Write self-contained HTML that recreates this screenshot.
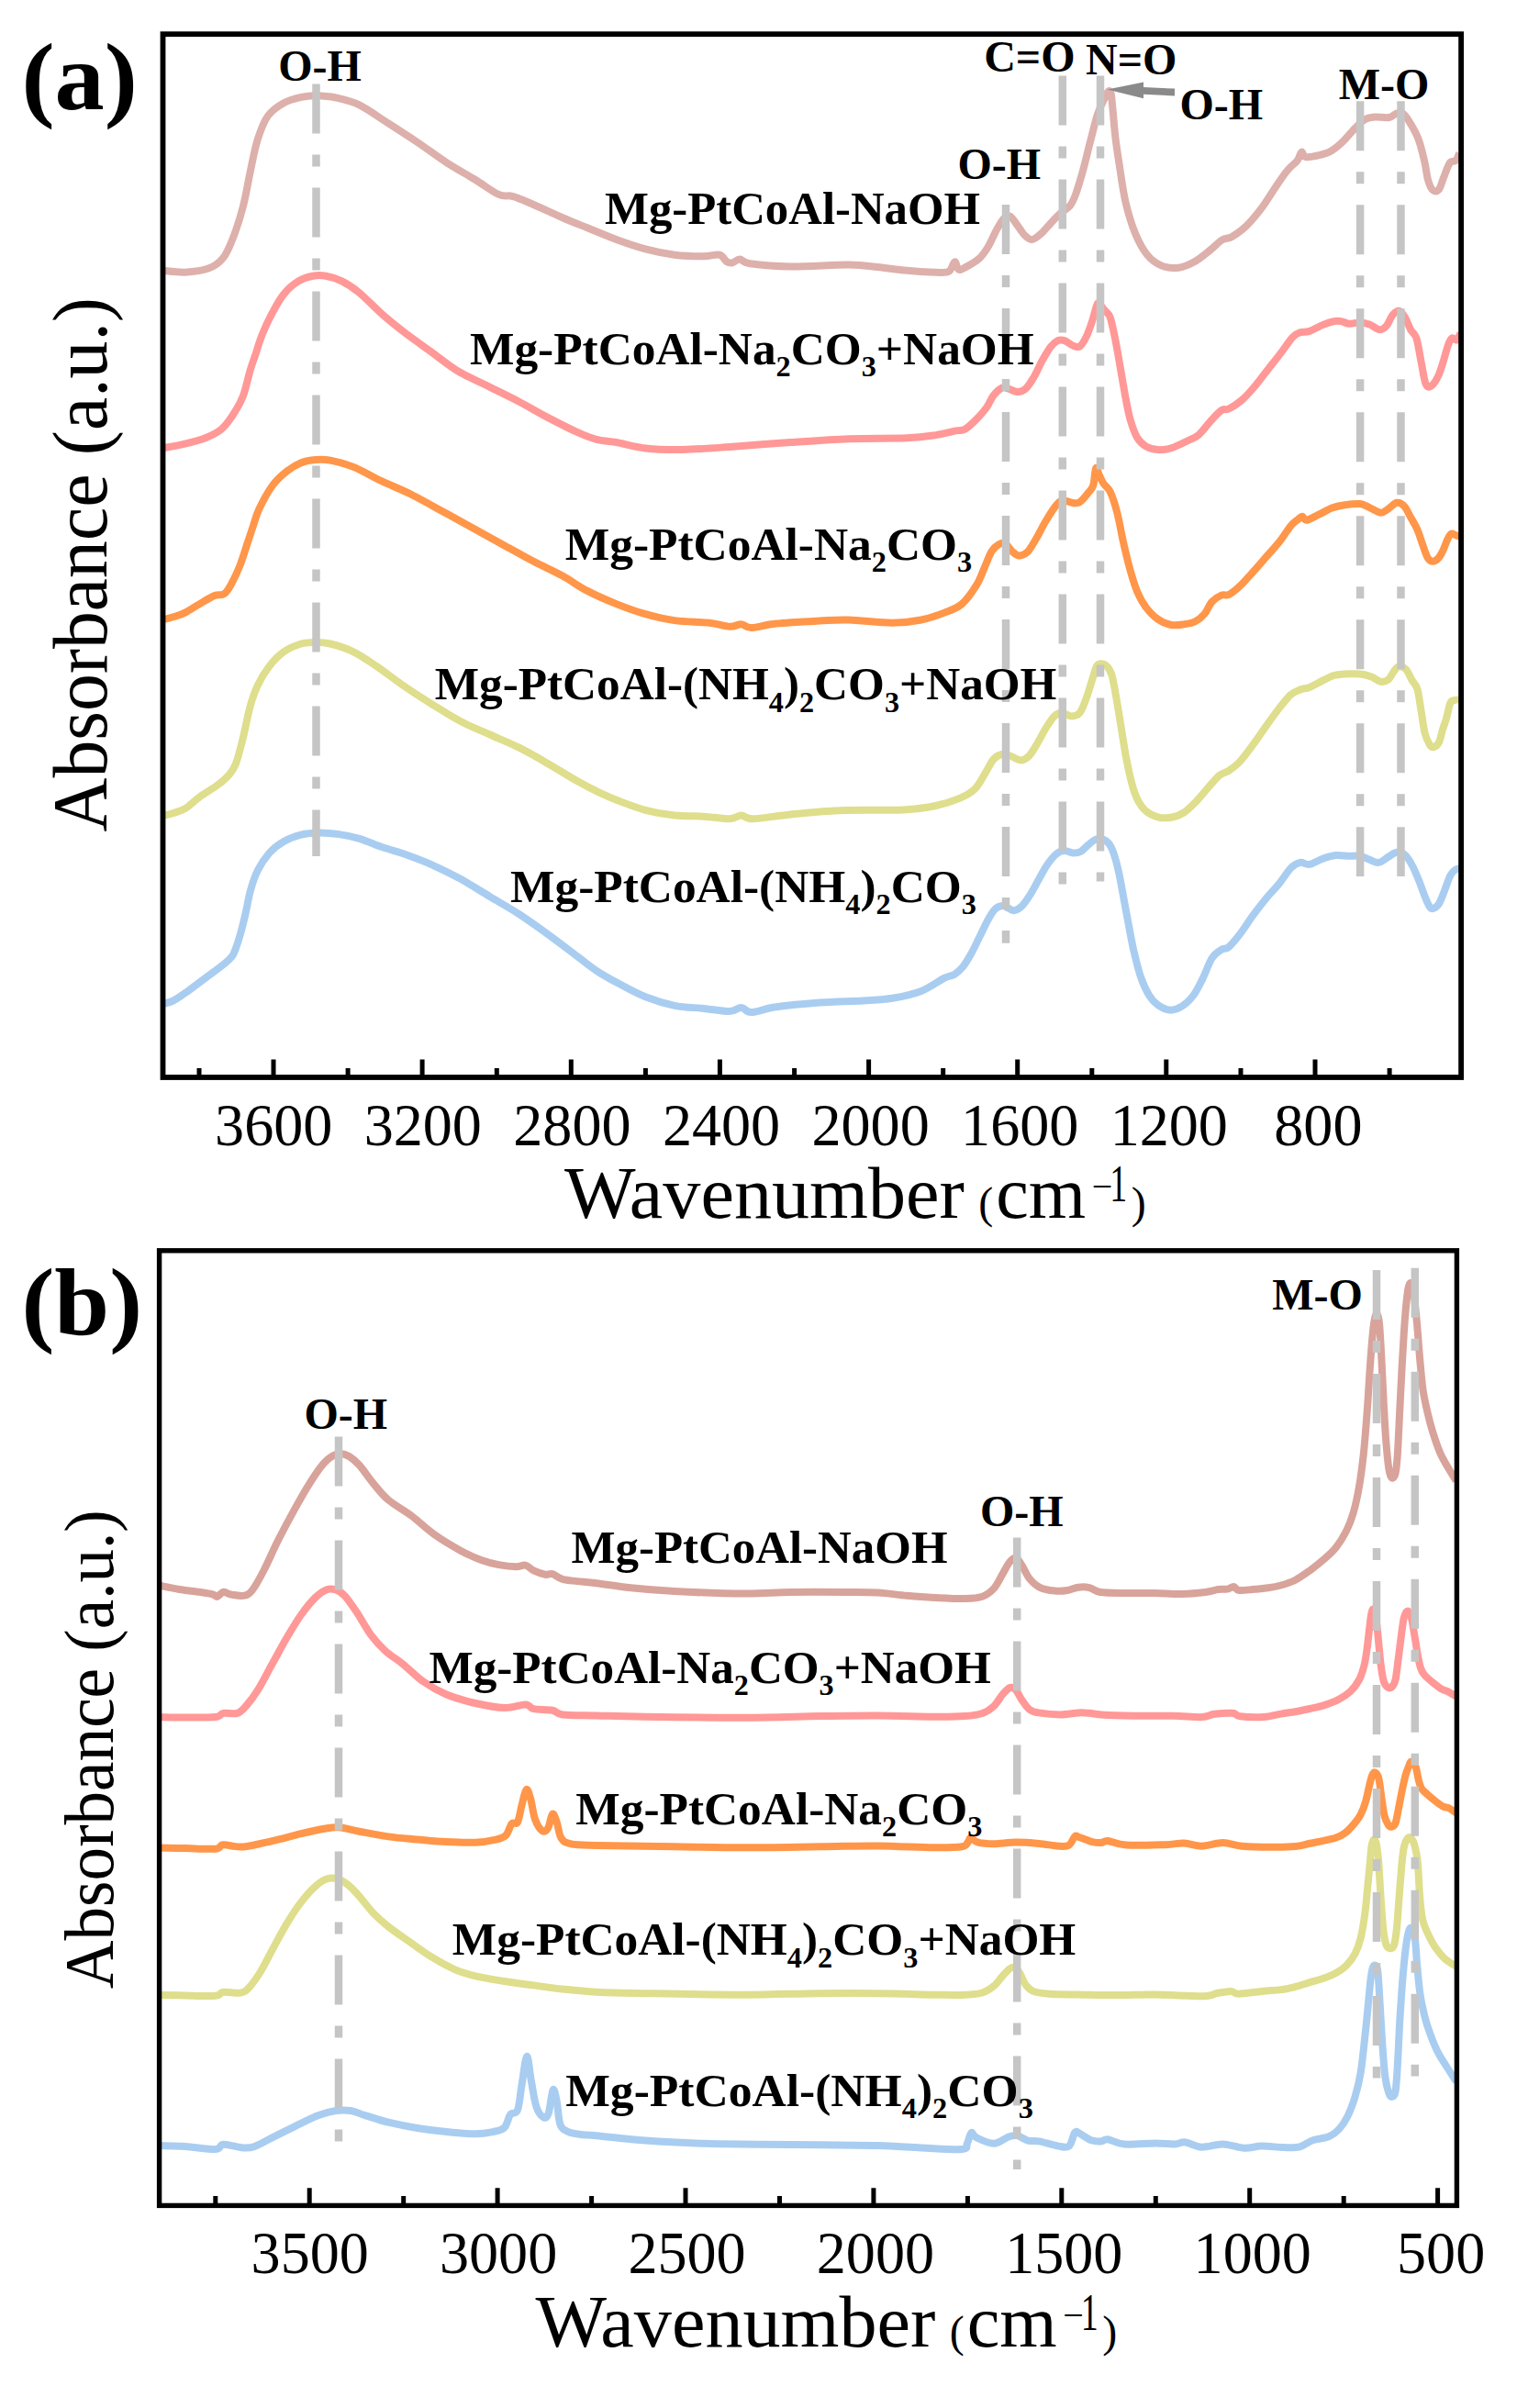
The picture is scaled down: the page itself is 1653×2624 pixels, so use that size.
<!DOCTYPE html>
<html lang="en"><head><meta charset="utf-8"><title>FTIR spectra</title>
<style>html,body{margin:0;padding:0;background:#fff}body{width:1653px;height:2624px;overflow:hidden}svg{display:block}text{font-family:"Liberation Serif","Times New Roman",serif;fill:#000}.b text{font-weight:bold}</style></head><body>
<svg width="1653" height="2624" viewBox="0 0 1653 2624">
<rect width="1653" height="2624" fill="#fff"/>
<g fill="none" stroke-width="8" stroke-linejoin="round" stroke-linecap="butt">
<path d="M177.0 294.8C181.1 295.1 193.3 297.1 201.6 296.7C209.9 296.3 220.1 295.1 227.0 292.6C233.9 290.1 238.3 287.0 242.8 281.5C247.3 276.0 250.2 268.9 253.9 259.4C257.6 249.9 261.9 236.7 265.0 224.6C268.1 212.5 270.2 198.7 272.8 186.6C275.4 174.5 277.6 161.8 280.8 151.8C284.0 141.8 287.1 133.1 291.8 126.5C296.5 119.9 303.1 115.6 309.2 112.2C315.3 108.8 322.4 107.2 328.2 105.9C334.0 104.6 337.7 104.2 344.0 104.3C350.3 104.4 358.3 104.8 366.2 106.5C374.1 108.2 382.0 109.8 391.5 114.4C401.0 119.1 412.6 127.6 423.2 134.4C433.8 141.2 444.2 147.9 454.8 155.0C465.4 162.1 475.9 170.3 486.5 177.1C497.1 183.9 508.6 190.2 518.1 196.0C527.6 201.8 536.5 208.9 543.4 211.9C550.2 214.9 552.9 212.2 559.2 214.1C565.5 215.9 572.4 219.2 581.4 223.0C590.4 226.8 603.2 233.0 613.0 237.2C622.8 241.4 630.2 244.3 640.0 248.3C649.8 252.3 661.1 257.1 671.6 261.0C682.1 264.9 692.7 268.6 703.3 271.4C713.9 274.2 724.5 276.4 735.0 277.7C745.5 279.0 758.4 279.3 766.6 279.3C774.8 279.3 779.8 276.7 784.0 277.7C788.2 278.7 789.6 283.9 792.0 285.3C794.4 286.7 795.9 286.8 798.2 286.3C800.6 285.8 802.9 282.4 806.1 282.5C809.3 282.6 808.0 285.9 817.2 287.2C826.4 288.5 843.6 290.2 861.5 290.4C879.4 290.6 909.0 288.4 924.8 288.5C940.6 288.6 946.0 289.9 956.5 291.0C967.0 292.1 977.6 293.9 988.1 294.8C998.6 295.8 1012.1 296.5 1019.7 296.7C1027.4 296.9 1030.6 297.7 1034.0 295.8C1037.4 293.9 1038.6 285.7 1040.3 285.3C1042.0 284.9 1042.6 292.4 1044.4 293.5C1046.2 294.6 1047.6 293.6 1051.4 291.6C1055.2 289.6 1063.0 285.3 1067.2 281.5C1071.4 277.7 1073.5 274.2 1076.7 268.9C1079.9 263.6 1083.3 255.1 1086.2 249.9C1089.1 244.7 1091.7 240.2 1094.1 237.8C1096.5 235.4 1098.0 234.3 1100.4 235.6C1102.9 236.9 1106.1 242.2 1108.8 245.7C1111.5 249.2 1114.1 253.9 1116.7 256.5C1119.3 259.1 1121.6 261.4 1124.6 261.1C1127.6 260.8 1130.9 257.8 1134.5 254.6C1138.1 251.4 1142.7 245.5 1146.3 241.7C1149.9 237.9 1152.9 234.8 1156.2 231.8C1159.5 228.8 1163.5 227.2 1166.1 223.9C1168.7 220.6 1169.7 218.3 1172.0 212.0C1174.3 205.7 1177.2 195.9 1179.9 186.3C1182.6 176.8 1185.2 164.9 1187.9 154.7C1190.6 144.5 1193.2 132.9 1195.8 125.0C1198.4 117.0 1201.7 111.2 1203.7 107.0C1205.7 102.8 1206.4 100.4 1207.6 99.6C1208.8 98.8 1209.8 98.6 1210.6 102.0C1211.4 105.4 1211.8 111.9 1212.6 120.0C1213.4 128.1 1214.3 141.0 1215.5 150.7C1216.7 160.4 1217.7 166.9 1219.5 178.4C1221.3 189.9 1223.5 207.2 1226.4 219.8C1229.3 232.4 1233.0 244.3 1236.9 254.0C1240.9 263.7 1245.3 271.9 1250.1 277.8C1254.9 283.7 1260.2 287.3 1265.9 289.6C1271.6 291.9 1278.2 292.6 1284.4 291.7C1290.6 290.8 1297.1 287.6 1302.8 284.4C1308.5 281.2 1313.9 276.3 1318.7 272.5C1323.5 268.7 1327.8 263.8 1331.8 261.4C1335.8 259.0 1338.0 260.6 1342.4 258.0C1346.8 255.4 1352.9 251.2 1358.2 246.1C1363.5 241.0 1368.7 234.7 1374.0 227.7C1379.3 220.7 1385.1 210.9 1389.9 203.9C1394.7 196.9 1399.0 190.3 1403.0 185.5C1407.0 180.7 1411.0 178.2 1413.6 174.9C1416.1 171.6 1416.8 166.3 1418.3 165.7C1419.8 165.0 1419.6 170.4 1422.8 171.0C1426.0 171.6 1432.7 170.2 1437.3 169.1C1441.9 168.0 1446.1 166.9 1450.5 164.4C1454.9 161.9 1459.3 158.0 1463.7 153.8C1468.1 149.6 1473.0 143.2 1476.9 139.3C1480.9 135.4 1483.9 132.1 1487.4 130.1C1490.9 128.1 1493.6 127.8 1498.0 127.5C1502.4 127.2 1509.8 128.7 1513.8 128.0C1517.8 127.3 1519.3 124.2 1521.7 123.5C1524.1 122.8 1526.1 122.2 1528.3 123.5C1530.5 124.8 1532.1 126.8 1534.9 131.4C1537.8 136.0 1542.6 143.9 1545.4 151.2C1548.2 158.4 1550.2 167.4 1552.0 174.9C1553.8 182.4 1554.5 190.6 1556.0 196.0C1557.5 201.4 1559.2 205.3 1561.2 207.1C1563.2 208.9 1565.8 208.9 1567.8 206.6C1569.8 204.3 1571.1 198.2 1573.1 193.4C1575.1 188.6 1577.5 180.7 1579.7 177.6C1581.9 174.5 1584.5 176.7 1586.3 174.9C1588.0 173.1 1589.5 168.3 1590.2 167.0" stroke="#DDB0AB"/>
<path d="M177.0 488.4C181.1 487.6 193.8 485.5 201.6 483.6C209.4 481.8 217.2 479.9 223.8 477.3C230.4 474.7 236.2 472.0 241.2 467.8C246.2 463.6 250.0 458.1 253.9 452.0C257.9 445.9 261.8 439.6 264.9 431.4C268.0 423.2 270.4 410.8 272.8 402.9C275.2 395.0 277.1 390.2 279.2 383.9C281.3 377.6 282.6 372.0 285.5 364.9C288.4 357.8 292.7 348.6 296.6 341.2C300.6 333.8 304.4 326.4 309.2 320.6C313.9 314.8 319.8 309.7 325.1 306.4C330.4 303.1 335.9 301.6 340.9 300.7C345.9 299.8 349.8 299.8 355.1 300.7C360.4 301.6 366.4 303.3 372.5 306.4C378.6 309.4 384.1 312.9 391.5 319.0C398.9 325.1 408.4 335.4 416.8 342.8C425.2 350.2 433.2 356.5 442.2 363.4C451.2 370.2 461.1 377.0 470.6 383.9C480.1 390.8 488.6 398.2 499.1 404.5C509.7 410.8 522.8 416.4 533.9 421.9C545.0 427.4 555.0 432.2 565.6 437.7C576.2 443.2 586.7 449.6 597.2 455.1C607.8 460.6 620.1 466.9 628.9 470.9C637.7 474.9 642.9 477.0 650.0 478.9C657.1 480.8 662.7 480.4 671.6 482.0C680.5 483.6 691.2 487.1 703.3 488.4C715.4 489.7 728.6 490.2 744.4 489.9C760.2 489.6 778.7 488.1 798.2 486.8C817.7 485.5 840.4 483.4 861.5 482.0C882.6 480.6 903.7 479.0 924.8 478.2C945.9 477.4 972.3 478.0 988.1 477.3C1003.9 476.6 1010.7 475.4 1019.7 474.1C1028.7 472.8 1036.6 470.4 1041.9 469.4C1047.2 468.3 1047.7 469.9 1051.4 467.8C1055.1 465.7 1060.0 460.9 1064.0 456.9C1068.0 452.9 1072.0 448.3 1075.1 444.0C1078.2 439.7 1079.7 434.6 1082.5 431.0C1085.3 427.4 1088.9 423.9 1091.7 422.7C1094.5 421.5 1096.3 423.0 1099.1 423.7C1101.9 424.4 1105.2 427.0 1108.3 427.0C1111.4 427.0 1114.4 426.4 1117.5 423.7C1120.6 421.0 1123.6 415.9 1126.7 410.7C1129.8 405.5 1132.9 397.8 1136.0 392.3C1139.1 386.8 1142.4 381.0 1145.2 377.5C1148.0 374.0 1150.1 372.2 1152.6 371.1C1155.1 370.0 1157.2 370.2 1160.0 371.1C1162.8 372.0 1166.4 375.5 1169.2 376.6C1172.0 377.7 1174.3 378.9 1176.6 377.5C1178.9 376.1 1180.8 372.6 1183.0 368.3C1185.2 364.0 1187.5 357.6 1189.5 351.7C1191.5 345.8 1193.7 336.6 1195.0 333.2C1196.3 329.8 1196.0 330.1 1197.5 331.0C1199.0 331.9 1202.2 336.3 1204.3 338.8C1206.3 341.3 1208.0 340.9 1209.8 346.1C1211.6 351.3 1213.4 360.9 1215.3 370.1C1217.2 379.3 1219.1 391.0 1220.9 401.5C1222.8 412.0 1224.6 423.4 1226.4 432.9C1228.2 442.4 1229.8 451.3 1232.0 458.7C1234.2 466.1 1236.5 472.6 1239.3 477.2C1242.1 481.8 1244.9 484.2 1248.6 486.4C1252.3 488.5 1256.9 489.8 1261.5 490.1C1266.1 490.4 1270.8 490.0 1276.3 488.3C1281.8 486.6 1289.7 482.4 1294.7 480.0C1299.7 477.6 1302.3 477.1 1306.3 473.7C1310.3 470.3 1314.5 463.8 1318.6 459.4C1322.7 455.0 1327.5 449.4 1330.9 447.1C1334.3 444.8 1335.3 447.4 1339.0 445.5C1342.7 443.6 1348.5 440.0 1353.3 435.9C1358.1 431.8 1362.8 426.2 1367.6 420.6C1372.4 415.0 1377.1 408.3 1381.9 402.2C1386.7 396.1 1391.9 389.6 1396.3 383.8C1400.7 378.0 1405.1 371.0 1408.5 367.4C1411.9 363.8 1413.6 363.4 1416.7 362.3C1419.8 361.2 1422.8 362.3 1426.9 360.9C1431.0 359.5 1436.8 355.9 1441.2 354.1C1445.6 352.3 1450.1 350.8 1453.5 350.1C1456.9 349.4 1458.9 349.7 1461.6 350.1C1464.3 350.5 1466.4 352.5 1469.8 352.7C1473.2 352.9 1478.3 351.4 1482.1 351.5C1485.8 351.6 1488.7 352.2 1492.3 353.5C1495.9 354.8 1500.4 359.0 1503.5 359.3C1506.6 359.6 1508.3 357.9 1510.7 355.2C1513.1 352.5 1515.4 345.6 1517.8 342.9C1520.2 340.2 1522.8 338.3 1525.0 338.8C1527.2 339.3 1529.1 342.6 1531.1 346.0C1533.1 349.4 1535.2 355.6 1537.2 359.3C1539.2 363.1 1541.5 362.7 1543.4 368.5C1545.3 374.3 1546.8 385.7 1548.5 394.0C1550.2 402.3 1551.7 414.1 1553.6 418.5C1555.5 422.9 1557.5 422.0 1559.7 420.6C1561.9 419.2 1564.9 414.4 1566.9 410.3C1569.0 406.2 1570.1 401.8 1572.0 396.0C1573.9 390.2 1576.4 380.2 1578.1 375.6C1579.8 371.0 1580.7 369.4 1582.2 368.5C1583.7 367.6 1585.8 371.4 1587.3 370.5C1588.8 369.6 1590.7 364.5 1591.4 363.3" stroke="#FF9897"/>
<path d="M177.0 675.5C179.0 675.0 184.9 673.6 189.0 672.3C193.1 671.0 196.8 670.0 201.6 667.6C206.3 665.2 212.2 661.2 217.5 658.1C222.8 655.0 228.8 651.1 233.3 649.2C237.8 647.4 241.2 649.2 244.4 647.0C247.6 644.8 249.4 641.3 252.3 636.0C255.2 630.7 258.9 622.8 261.8 615.4C264.7 608.0 267.3 598.7 269.7 591.6C272.1 584.5 273.9 578.8 276.0 572.7C278.1 566.6 278.9 562.0 282.3 554.8C285.7 547.6 291.6 536.4 296.6 529.5C301.6 522.6 307.1 517.9 312.4 513.7C317.7 509.5 322.9 506.3 328.2 504.2C333.5 502.1 338.7 501.4 344.0 501.0C349.3 500.6 353.0 500.3 359.9 501.6C366.8 502.9 375.7 505.0 385.2 508.9C394.7 512.8 406.2 519.7 416.8 524.7C427.4 529.7 436.9 533.2 448.5 539.0C460.1 544.8 474.9 553.3 486.5 559.6C498.1 565.9 507.6 571.2 518.1 577.0C528.6 582.8 539.2 588.6 549.7 594.4C560.2 600.2 570.9 606.3 581.4 611.8C591.9 617.3 603.2 622.2 613.0 627.6C622.8 633.0 630.2 638.8 640.0 643.9C649.8 649.0 661.1 653.9 671.6 658.1C682.1 662.3 692.7 666.2 703.3 669.2C713.9 672.2 723.4 674.5 735.0 676.1C746.6 677.7 762.9 677.6 772.9 678.7C782.9 679.8 789.3 682.5 795.1 682.8C800.9 683.1 803.8 680.1 807.7 680.3C811.7 680.5 812.5 684.2 818.8 684.1C825.1 684.0 833.3 680.9 845.7 679.6C858.1 678.3 880.0 677.2 893.2 676.5C906.4 675.8 911.6 675.1 924.8 675.5C938.0 675.9 959.1 678.7 972.3 678.7C985.5 678.7 994.4 677.4 1003.9 675.5C1013.4 673.6 1021.8 670.5 1029.2 667.6C1036.6 664.7 1042.4 663.1 1048.2 658.1C1054.0 653.1 1059.8 644.5 1064.0 637.7C1068.2 630.9 1070.4 623.6 1073.2 617.4C1076.0 611.2 1078.1 604.7 1080.6 600.7C1083.1 596.7 1085.5 594.8 1088.0 593.4C1090.5 592.0 1092.9 591.2 1095.4 592.4C1097.9 593.6 1100.3 598.5 1102.8 600.7C1105.2 602.9 1107.3 605.2 1110.1 605.4C1112.9 605.6 1116.3 604.6 1119.4 601.7C1122.5 598.8 1125.2 593.5 1128.6 587.8C1132.0 582.1 1136.0 573.6 1139.7 567.5C1143.4 561.4 1147.6 554.6 1150.7 550.9C1153.8 547.2 1155.0 545.9 1158.1 545.4C1161.2 544.9 1166.1 547.8 1169.2 548.1C1172.3 548.4 1173.8 549.0 1176.6 547.2C1179.4 545.4 1183.3 540.2 1185.8 537.1C1188.2 534.0 1189.9 533.3 1191.3 528.8C1192.7 524.3 1193.0 512.1 1194.1 510.3C1195.2 508.5 1196.4 514.9 1197.8 517.7C1199.2 520.5 1200.4 523.8 1202.4 526.9C1204.4 530.0 1207.3 530.9 1209.8 536.1C1212.3 541.3 1214.7 548.8 1217.2 558.3C1219.7 567.8 1222.1 582.6 1224.6 593.4C1227.1 604.2 1229.5 614.3 1232.0 622.9C1234.5 631.5 1236.5 638.5 1239.3 645.0C1242.1 651.5 1244.9 656.7 1248.6 661.6C1252.3 666.5 1256.9 671.4 1261.5 674.6C1266.1 677.8 1271.4 680.1 1276.3 681.0C1281.2 681.9 1286.7 680.7 1291.0 680.1C1295.3 679.5 1298.7 679.1 1302.3 677.2C1305.9 675.4 1309.5 672.6 1312.5 669.0C1315.5 665.4 1317.5 659.1 1320.6 655.7C1323.7 652.3 1327.8 649.9 1330.9 648.6C1334.0 647.3 1335.6 649.7 1339.0 648.0C1342.4 646.3 1346.9 642.6 1351.3 638.4C1355.7 634.2 1360.8 628.3 1365.6 623.0C1370.4 617.7 1375.1 612.2 1379.9 606.7C1384.7 601.2 1389.8 595.9 1394.2 590.3C1398.6 584.7 1403.1 577.1 1406.5 573.0C1409.9 568.9 1412.5 567.5 1414.6 565.8C1416.7 564.1 1417.6 562.6 1419.1 562.8C1420.6 563.0 1420.8 567.1 1423.8 566.8C1426.8 566.4 1432.5 562.9 1437.1 560.7C1441.7 558.5 1447.0 555.3 1451.4 553.6C1455.8 551.9 1458.6 551.2 1463.7 550.5C1468.8 549.8 1477.3 548.6 1482.1 549.1C1486.9 549.6 1488.6 551.6 1492.3 553.2C1496.0 554.8 1501.1 558.5 1504.5 558.7C1507.9 558.9 1509.8 556.4 1512.7 554.6C1515.6 552.8 1519.0 548.3 1521.9 547.8C1524.8 547.3 1527.5 548.8 1530.1 551.5C1532.6 554.2 1534.8 559.5 1537.2 563.8C1539.6 568.1 1542.2 572.0 1544.4 577.1C1546.6 582.2 1548.6 589.3 1550.5 594.4C1552.4 599.5 1553.9 604.8 1555.6 607.7C1557.3 610.6 1558.8 611.6 1560.7 611.8C1562.6 612.0 1565.0 610.6 1566.9 608.7C1568.8 606.8 1570.3 604.0 1572.0 600.6C1573.7 597.2 1575.6 591.4 1577.1 588.3C1578.6 585.2 1579.7 582.6 1581.2 581.8C1582.7 580.9 1584.6 582.6 1586.3 583.2C1588.0 583.8 1590.6 584.9 1591.4 585.2" stroke="#FF9649"/>
<path d="M177.0 889.1C179.0 888.6 184.9 887.3 189.0 886.0C193.1 884.7 196.8 884.1 201.6 881.2C206.3 878.3 211.7 872.7 217.5 868.5C223.3 864.3 231.2 859.9 236.5 855.9C241.8 851.9 245.7 848.8 249.1 844.8C252.5 840.8 254.4 839.1 257.0 832.2C259.6 825.4 262.3 814.2 264.9 803.7C267.5 793.2 270.1 778.4 272.8 768.9C275.5 759.4 277.4 753.8 280.8 746.7C284.2 739.6 288.7 732.2 293.4 726.1C298.1 720.0 303.4 714.4 309.2 710.3C315.0 706.2 322.4 703.2 328.2 701.5C334.0 699.8 338.7 699.9 344.0 699.9C349.3 699.9 353.0 699.8 359.9 701.5C366.8 703.2 376.8 706.2 385.2 710.3C393.6 714.4 401.5 720.0 410.5 726.1C419.5 732.2 429.0 739.8 439.0 746.7C449.0 753.6 460.1 760.7 470.6 767.3C481.2 773.9 491.8 780.8 502.3 786.3C512.9 791.8 523.4 795.8 533.9 800.5C544.4 805.2 555.0 809.4 565.6 814.7C576.2 820.0 586.7 826.1 597.2 832.2C607.8 838.3 620.1 846.1 628.9 851.1C637.7 856.1 642.9 858.8 650.0 862.2C657.1 865.6 662.7 868.3 671.6 871.7C680.5 875.1 692.7 880.0 703.3 882.8C713.9 885.6 724.5 887.4 735.0 888.5C745.5 889.6 756.6 889.1 766.6 889.7C776.6 890.3 788.2 892.5 795.1 892.3C802.0 892.1 803.5 888.5 807.7 888.5C811.9 888.5 811.4 892.5 820.4 892.3C829.4 892.1 846.7 889.0 861.5 887.5C876.3 886.0 893.2 884.2 909.0 883.4C924.8 882.6 943.3 883.0 956.5 882.8C969.7 882.6 977.6 883.0 988.1 882.2C998.6 881.4 1010.2 880.0 1019.7 878.0C1029.2 876.0 1038.0 873.1 1045.1 870.1C1052.2 867.1 1057.4 864.3 1062.1 859.8C1066.8 855.3 1069.8 848.6 1073.2 843.2C1076.6 837.8 1079.4 831.0 1082.5 827.5C1085.6 824.0 1088.6 822.6 1091.7 822.0C1094.8 821.4 1097.5 822.7 1100.9 823.8C1104.3 824.9 1108.6 828.4 1112.0 828.4C1115.4 828.4 1118.1 826.9 1121.2 823.8C1124.3 820.7 1127.3 815.1 1130.4 810.0C1133.5 804.9 1136.6 798.3 1139.7 793.4C1142.8 788.5 1146.1 783.2 1148.9 780.4C1151.7 777.6 1153.2 776.7 1156.3 776.7C1159.4 776.7 1164.0 780.4 1167.4 780.4C1170.8 780.4 1173.8 780.1 1176.6 776.7C1179.4 773.3 1181.7 766.2 1184.0 760.1C1186.3 754.0 1188.6 745.5 1190.4 739.8C1192.2 734.1 1193.5 728.8 1195.0 726.0C1196.5 723.2 1197.9 723.2 1199.7 723.2C1201.5 723.2 1204.1 723.9 1206.1 726.0C1208.1 728.1 1209.9 730.4 1211.6 736.1C1213.3 741.8 1214.6 750.6 1216.3 760.1C1218.0 769.6 1220.0 782.3 1221.8 793.4C1223.6 804.5 1225.4 816.8 1227.3 826.6C1229.2 836.4 1230.9 845.0 1232.9 852.4C1234.9 859.8 1236.7 865.7 1239.3 870.9C1241.9 876.1 1244.9 880.6 1248.6 883.8C1252.3 887.0 1256.9 889.1 1261.5 890.3C1266.1 891.5 1271.5 891.6 1276.3 890.8C1281.0 890.0 1285.7 888.2 1290.0 885.5C1294.3 882.8 1297.9 879.0 1302.3 874.5C1306.7 870.0 1312.2 863.1 1316.6 858.2C1321.0 853.3 1325.1 848.0 1328.8 844.9C1332.5 841.8 1335.2 842.3 1339.0 839.8C1342.8 837.2 1346.9 834.4 1351.3 829.6C1355.7 824.8 1360.8 817.7 1365.6 811.2C1370.4 804.7 1375.1 797.4 1379.9 790.8C1384.7 784.2 1389.8 777.0 1394.2 771.4C1398.6 765.8 1402.8 760.4 1406.5 757.1C1410.2 753.8 1413.3 752.9 1416.7 751.5C1420.1 750.1 1422.8 750.5 1426.9 748.9C1431.0 747.3 1436.8 743.9 1441.2 741.7C1445.6 739.6 1449.8 737.2 1453.5 736.0C1457.2 734.8 1458.9 734.8 1463.7 734.6C1468.5 734.4 1477.0 734.1 1482.1 734.6C1487.2 735.1 1490.6 736.2 1494.3 737.6C1498.0 739.0 1501.4 742.3 1504.5 742.8C1507.6 743.3 1510.3 742.6 1512.7 740.7C1515.1 738.8 1517.0 733.9 1518.9 731.5C1520.8 729.1 1521.8 726.7 1524.0 726.4C1526.2 726.1 1529.7 727.1 1532.1 729.5C1534.5 731.9 1536.2 737.1 1538.3 740.7C1540.3 744.3 1542.7 745.3 1544.4 750.9C1546.1 756.5 1547.1 766.4 1548.5 774.4C1549.9 782.4 1551.1 792.8 1552.6 798.9C1554.1 805.0 1556.2 808.6 1557.7 811.2C1559.2 813.8 1560.1 814.6 1561.8 814.3C1563.5 814.0 1566.2 812.4 1567.9 809.2C1569.6 806.0 1570.6 799.3 1572.0 794.9C1573.4 790.5 1574.7 787.4 1576.1 782.6C1577.5 777.8 1578.8 769.5 1580.2 766.3C1581.6 763.1 1582.3 763.9 1584.2 763.2C1586.1 762.5 1590.2 762.4 1591.4 762.2" stroke="#DEDE8C"/>
<path d="M177.0 1094.2C179.0 1093.6 184.4 1092.8 189.0 1090.4C193.6 1088.0 199.0 1084.0 204.8 1079.9C210.6 1075.8 217.5 1070.4 223.8 1065.7C230.1 1061.0 237.8 1055.7 242.8 1051.5C247.8 1047.3 250.7 1046.0 253.9 1040.4C257.1 1034.9 259.4 1026.1 261.8 1018.2C264.2 1010.3 266.3 1000.8 268.1 992.9C269.9 985.0 270.7 978.2 272.8 970.8C274.9 963.4 277.4 955.5 280.8 948.6C284.2 941.7 288.7 934.9 293.4 929.6C298.1 924.3 303.4 920.3 309.2 917.0C315.0 913.7 321.9 911.3 328.2 909.7C334.5 908.1 340.3 907.6 347.2 907.5C354.1 907.4 362.0 908.1 369.4 909.1C376.8 910.1 383.6 911.4 391.5 913.8C399.4 916.2 408.4 920.4 416.8 923.3C425.2 926.2 433.2 928.0 442.2 931.2C451.2 934.4 460.6 937.8 470.6 942.3C480.6 946.8 491.8 952.3 502.3 958.1C512.9 963.9 523.4 970.8 533.9 977.1C544.4 983.4 555.0 989.2 565.6 996.1C576.2 1003.0 586.7 1010.6 597.2 1018.2C607.8 1025.9 620.1 1035.4 628.9 1042.0C637.7 1048.6 642.9 1053.1 650.0 1057.8C657.1 1062.5 662.7 1065.7 671.6 1070.4C680.5 1075.2 692.7 1082.1 703.3 1086.3C713.9 1090.5 724.5 1093.7 735.0 1095.8C745.5 1097.9 756.6 1097.9 766.6 1098.9C776.6 1100.0 788.2 1102.2 795.1 1102.1C802.0 1101.9 803.8 1097.8 807.7 1098.0C811.7 1098.2 812.5 1103.1 818.8 1103.0C825.1 1102.9 833.3 1099.0 845.7 1097.3C858.1 1095.6 877.4 1093.8 893.2 1092.6C909.0 1091.4 927.4 1091.2 940.6 1090.4C953.8 1089.6 961.8 1089.5 972.3 1087.8C982.8 1086.0 994.4 1083.6 1003.9 1079.9C1013.4 1076.2 1023.2 1068.7 1029.2 1065.7C1035.2 1062.7 1036.7 1063.8 1040.0 1061.8C1043.3 1059.8 1046.1 1057.3 1049.2 1053.5C1052.3 1049.7 1055.4 1044.2 1058.5 1038.7C1061.6 1033.2 1064.6 1026.5 1067.7 1020.3C1070.8 1014.1 1074.1 1006.7 1076.9 1001.8C1079.7 996.9 1081.7 993.2 1084.3 990.7C1086.9 988.2 1090.1 987.1 1092.6 987.0C1095.1 986.9 1096.9 988.9 1099.1 989.8C1101.2 990.7 1103.0 992.7 1105.5 992.2C1108.0 991.7 1110.9 990.0 1113.8 987.0C1116.7 984.0 1120.0 979.0 1123.1 974.1C1126.2 969.2 1129.2 962.9 1132.3 957.5C1135.4 952.1 1138.4 946.2 1141.5 941.8C1144.6 937.3 1147.6 933.2 1150.7 930.8C1153.8 928.3 1156.9 927.3 1160.0 927.1C1163.1 926.9 1166.3 929.4 1169.2 929.5C1172.1 929.6 1174.7 929.5 1177.5 928.0C1180.3 926.5 1183.2 922.8 1185.8 920.6C1188.4 918.5 1190.7 916.2 1193.2 915.1C1195.7 914.0 1198.1 913.5 1200.6 914.1C1203.1 914.7 1205.8 916.2 1208.0 918.8C1210.2 921.4 1211.7 924.6 1213.5 929.8C1215.3 935.0 1217.2 941.8 1219.0 950.1C1220.8 958.4 1222.8 969.9 1224.6 979.7C1226.4 989.6 1228.3 999.7 1230.1 1009.2C1231.9 1018.7 1233.4 1027.7 1235.6 1036.9C1237.8 1046.1 1240.2 1056.6 1243.0 1064.6C1245.8 1072.6 1249.2 1079.8 1252.3 1084.9C1255.4 1090.0 1257.8 1092.4 1261.5 1095.0C1265.2 1097.6 1270.1 1100.3 1274.4 1100.6C1278.7 1100.9 1283.0 1099.5 1287.3 1096.9C1291.6 1094.3 1296.3 1090.0 1300.2 1084.9C1304.1 1079.9 1307.0 1073.4 1310.4 1066.6C1313.8 1059.8 1317.2 1049.4 1320.6 1044.1C1324.0 1038.8 1327.8 1036.9 1330.9 1034.9C1334.0 1032.9 1335.6 1034.8 1339.0 1031.9C1342.4 1029.0 1346.9 1023.4 1351.3 1017.6C1355.7 1011.8 1360.8 1003.6 1365.6 997.1C1370.4 990.6 1375.1 984.5 1379.9 978.7C1384.7 972.9 1389.8 967.9 1394.2 962.4C1398.6 956.9 1402.8 949.8 1406.5 946.0C1410.2 942.2 1413.3 940.6 1416.7 939.9C1420.1 939.2 1422.8 942.6 1426.9 941.9C1431.0 941.2 1436.4 937.4 1441.2 935.8C1446.0 934.2 1450.7 932.6 1455.5 932.1C1460.3 931.6 1465.4 932.7 1469.8 932.8C1474.2 932.9 1478.3 932.1 1482.1 932.8C1485.8 933.5 1488.9 935.6 1492.3 936.8C1495.7 938.0 1499.1 940.4 1502.5 939.9C1505.9 939.4 1509.5 935.7 1512.7 933.8C1515.9 931.9 1518.8 929.1 1521.9 928.7C1525.0 928.4 1528.2 929.2 1531.1 931.7C1534.0 934.2 1536.8 939.2 1539.3 944.0C1541.8 948.8 1544.2 954.8 1546.4 960.3C1548.6 965.8 1550.7 972.1 1552.6 976.7C1554.5 981.3 1556.2 985.7 1557.7 987.9C1559.2 990.1 1560.1 990.5 1561.8 990.0C1563.5 989.5 1565.9 988.1 1567.9 984.9C1569.9 981.7 1572.0 975.7 1574.0 970.6C1576.0 965.5 1578.3 958.0 1580.2 954.2C1582.1 950.5 1583.4 949.5 1585.3 948.1C1587.2 946.7 1590.4 946.4 1591.4 946.0" stroke="#A9CDF0"/>
</g>
<g fill="none" stroke="#C5C5C5" stroke-width="8.5" stroke-dasharray="54 23 13 23">
<path d="M344.5 91.6V933.0"/>
<path d="M1096.0 222.9V1027.7"/>
<path d="M1157.8 82.5V964.0"/>
<path d="M1199.0 82.5V960.5"/>
<path d="M1482.1 110.3V955.0"/>
<path d="M1526.5 110.3V955.0"/>
</g>
<path d="M1280 96.6L1246 95.0L1246 89.6L1206.5 97.4L1246 107.2L1246 102.8L1280 104.4Z" fill="#8A8A8A"/>
<g fill="none" stroke="#000">
<rect x="177.5" y="37.2" width="1414.6" height="1136.8" stroke-width="5.8"/>
<path d="M298.0 1172V1154.5M460.1 1172V1154.5M622.3 1172V1154.5M784.4 1172V1154.5M946.6 1172V1154.5M1108.7 1172V1154.5M1270.8 1172V1154.5M1433.0 1172V1154.5M217.0 1172V1164M379.1 1172V1164M541.3 1172V1164M703.4 1172V1164M865.6 1172V1164M1027.7 1172V1164M1189.8 1172V1164M1352.0 1172V1164M1514.1 1172V1164" stroke-width="5"/>
</g>
<g font-size="66" lengthAdjust="spacingAndGlyphs">
<text x="234.1" y="1248" textLength="128.2" lengthAdjust="spacingAndGlyphs">3600</text>
<text x="396.7" y="1248" textLength="128.2" lengthAdjust="spacingAndGlyphs">3200</text>
<text x="559.3" y="1248" textLength="128.2" lengthAdjust="spacingAndGlyphs">2800</text>
<text x="721.9" y="1248" textLength="128.2" lengthAdjust="spacingAndGlyphs">2400</text>
<text x="884.5" y="1248" textLength="128.2" lengthAdjust="spacingAndGlyphs">2000</text>
<text x="1047.1" y="1248" textLength="128.2" lengthAdjust="spacingAndGlyphs">1600</text>
<text x="1209.7" y="1248" textLength="128.2" lengthAdjust="spacingAndGlyphs">1200</text>
<text x="1388.3" y="1248" textLength="96.2" lengthAdjust="spacingAndGlyphs">800</text>
</g>
<text x="614.9" y="1326.8" font-size="81" textLength="436" lengthAdjust="spacingAndGlyphs">Wavenumber</text><text x="1066.2" y="1326.8" font-size="48">(</text><text x="1085.2" y="1326.8" font-size="81" textLength="98" lengthAdjust="spacingAndGlyphs">cm</text><text x="1189.7" y="1306.3" font-size="40">−</text><text x="1209.2" y="1309.3" font-size="56" textLength="19" lengthAdjust="spacingAndGlyphs">1</text><text x="1232.7" y="1326.8" font-size="48">)</text>
<text transform="translate(115.6 906.5) rotate(-90)" font-size="84" textLength="582.5" lengthAdjust="spacingAndGlyphs">Absorbance (a.u.)</text>
<g class="b">
<text x="23.5" y="118.7" font-size="103" textLength="126.5" lengthAdjust="spacingAndGlyphs">(a)</text>
<text x="303.2" y="88.3" font-size="48.0" text-anchor="start">O-H</text>
<text x="1072.2" y="77.6" font-size="48.0" text-anchor="start">C=O</text>
<text x="1183.0" y="80.5" font-size="48.0" text-anchor="start">N=O</text>
<text x="1285.5" y="129.6" font-size="48.0" text-anchor="start">O-H</text>
<text x="1043.5" y="195.2" font-size="48.0" text-anchor="start">O-H</text>
<text x="1458.7" y="108.1" font-size="48.0" text-anchor="start">M-O</text>
<text x="659.0" y="243.5" font-size="51.5" text-anchor="start" textLength="409.0" lengthAdjust="spacingAndGlyphs">Mg-PtCoAl-NaOH</text>
<text x="512.0" y="396.6" font-size="51.5" text-anchor="start" textLength="614.7" lengthAdjust="spacingAndGlyphs">Mg-PtCoAl-Na<tspan dy="13.5" font-size="32.4">2</tspan><tspan dy="-13.5">CO</tspan><tspan dy="13.5" font-size="32.4">3</tspan><tspan dy="-13.5">+NaOH</tspan></text>
<text x="615.7" y="609.5" font-size="51.5" text-anchor="start" textLength="443.6" lengthAdjust="spacingAndGlyphs">Mg-PtCoAl-Na<tspan dy="13.5" font-size="32.4">2</tspan><tspan dy="-13.5">CO</tspan><tspan dy="13.5" font-size="32.4">3</tspan></text>
<text x="473.8" y="762.0" font-size="51.5" text-anchor="start" textLength="677.6" lengthAdjust="spacingAndGlyphs">Mg-PtCoAl-(NH<tspan dy="13.5" font-size="32.4">4</tspan><tspan dy="-13.5">)</tspan><tspan dy="13.5" font-size="32.4">2</tspan><tspan dy="-13.5">CO</tspan><tspan dy="13.5" font-size="32.4">3</tspan><tspan dy="-13.5">+NaOH</tspan></text>
<text x="556.0" y="982.5" font-size="51.5" text-anchor="start" textLength="508.0" lengthAdjust="spacingAndGlyphs">Mg-PtCoAl-(NH<tspan dy="13.5" font-size="32.4">4</tspan><tspan dy="-13.5">)</tspan><tspan dy="13.5" font-size="32.4">2</tspan><tspan dy="-13.5">CO</tspan><tspan dy="13.5" font-size="32.4">3</tspan></text>
</g>
<g fill="none" stroke-width="8" stroke-linejoin="round" stroke-linecap="butt">
<path d="M173.8 1727.8C177.4 1728.5 188.0 1730.8 195.3 1732.0C202.6 1733.2 211.4 1733.9 217.5 1734.8C223.6 1735.7 228.5 1736.4 231.7 1737.3C234.9 1738.2 234.6 1740.3 236.5 1739.9C238.4 1739.5 241.0 1735.2 243.4 1734.8C245.8 1734.4 247.1 1736.6 250.7 1737.3C254.3 1738.0 260.9 1739.5 264.9 1738.9C268.8 1738.3 270.7 1738.0 274.4 1733.5C278.1 1729.0 282.4 1721.1 287.1 1712.0C291.9 1702.9 297.3 1689.9 302.9 1678.8C308.5 1667.7 314.8 1655.9 320.5 1645.6C326.2 1635.3 331.7 1625.5 337.0 1617.1C342.3 1608.6 348.2 1600.0 352.5 1594.9C356.8 1589.8 359.4 1588.3 362.5 1586.5C365.6 1584.7 367.9 1583.8 370.9 1583.9C373.9 1584.0 377.0 1584.9 380.4 1587.0C383.8 1589.1 387.0 1591.5 391.5 1596.5C396.0 1601.5 402.0 1610.8 407.3 1617.1C412.6 1623.4 416.3 1628.7 423.2 1634.5C430.1 1640.3 440.1 1645.6 448.5 1651.9C456.9 1658.2 464.8 1666.2 473.8 1672.5C482.8 1678.8 493.9 1685.3 502.3 1689.9C510.7 1694.5 517.5 1697.5 524.4 1700.0C531.2 1702.5 537.1 1703.9 543.4 1705.1C549.7 1706.3 557.5 1707.2 562.4 1707.3C567.2 1707.4 569.3 1705.0 572.5 1705.7C575.7 1706.4 577.8 1709.7 581.4 1711.4C585.0 1713.1 590.7 1715.2 594.1 1715.8C597.5 1716.4 598.9 1714.3 602.0 1715.2C605.1 1716.1 608.5 1719.6 613.0 1720.9C617.5 1722.2 622.7 1722.4 628.9 1723.1C635.1 1723.8 640.2 1724.1 650.0 1725.3C659.8 1726.5 673.3 1728.8 687.5 1730.3C701.7 1731.8 714.4 1733.0 735.0 1734.1C755.6 1735.1 789.8 1736.4 810.9 1736.6C832.0 1736.8 842.5 1735.3 861.5 1735.0C880.5 1734.7 909.0 1734.9 924.8 1735.0C940.6 1735.1 946.0 1735.0 956.5 1735.6C967.0 1736.2 977.6 1737.9 988.1 1738.8C998.6 1739.7 1009.2 1740.5 1019.7 1741.0C1030.2 1741.5 1043.0 1742.2 1051.4 1742.0C1059.9 1741.8 1065.1 1741.5 1070.4 1739.7C1075.7 1737.9 1079.3 1735.0 1083.0 1730.9C1086.7 1726.8 1089.6 1719.9 1092.5 1715.1C1095.4 1710.2 1097.9 1704.6 1100.4 1701.8C1102.9 1699.0 1105.3 1697.2 1107.5 1698.0C1109.7 1698.8 1111.4 1702.6 1113.8 1706.3C1116.2 1710.0 1118.5 1716.2 1121.8 1720.2C1125.1 1724.2 1129.0 1727.9 1133.6 1730.1C1138.2 1732.3 1144.5 1733.1 1149.4 1733.6C1154.4 1734.1 1159.0 1733.7 1163.3 1733.0C1167.6 1732.3 1171.1 1730.2 1175.1 1729.7C1179.0 1729.2 1183.0 1729.2 1187.0 1730.1C1191.0 1731.0 1192.0 1734.0 1198.9 1735.0C1205.8 1736.0 1218.6 1735.8 1228.5 1736.0C1238.4 1736.2 1248.3 1735.8 1258.2 1736.0C1268.1 1736.2 1278.7 1737.2 1287.9 1737.0C1297.1 1736.8 1307.0 1735.8 1313.6 1735.0C1320.2 1734.2 1323.5 1732.6 1327.4 1732.0C1331.4 1731.4 1334.5 1732.1 1337.3 1731.6C1340.1 1731.1 1342.1 1728.9 1344.2 1729.1C1346.3 1729.3 1346.3 1732.5 1350.1 1733.0C1353.9 1733.5 1361.7 1732.2 1367.0 1731.8C1372.3 1731.3 1377.2 1731.0 1382.0 1730.3C1386.8 1729.6 1390.9 1728.9 1395.8 1727.5C1400.7 1726.1 1406.3 1724.4 1411.6 1721.7C1416.8 1719.0 1422.0 1715.2 1427.3 1711.4C1432.5 1707.6 1438.3 1703.0 1443.1 1698.8C1447.8 1694.6 1451.8 1691.2 1455.8 1686.2C1459.8 1681.2 1463.6 1675.1 1466.8 1668.8C1470.0 1662.5 1472.3 1656.4 1474.7 1648.3C1477.1 1640.2 1479.2 1630.4 1481.0 1619.9C1482.8 1609.4 1484.2 1598.9 1485.7 1585.2C1487.2 1571.5 1488.5 1553.6 1489.7 1537.8C1490.9 1522.0 1491.8 1505.0 1492.8 1490.5C1493.8 1476.0 1495.1 1460.2 1496.0 1451.0C1496.9 1441.8 1497.6 1438.4 1498.4 1435.2C1499.2 1432.0 1499.9 1430.8 1500.7 1432.1C1501.5 1433.4 1502.3 1434.7 1503.1 1443.1C1503.9 1451.5 1504.7 1468.1 1505.5 1482.6C1506.3 1497.1 1507.0 1515.4 1507.8 1529.9C1508.6 1544.4 1509.3 1557.6 1510.2 1569.4C1511.1 1581.2 1512.4 1594.2 1513.4 1601.0C1514.5 1607.8 1515.3 1609.6 1516.5 1610.4C1517.7 1611.2 1519.5 1609.9 1520.5 1605.7C1521.5 1601.5 1522.0 1596.5 1522.8 1585.2C1523.6 1573.9 1524.4 1553.6 1525.2 1537.8C1526.0 1522.0 1526.8 1505.0 1527.6 1490.5C1528.4 1476.0 1529.1 1462.6 1529.9 1451.0C1530.7 1439.4 1531.5 1429.0 1532.3 1421.0C1533.1 1413.0 1533.8 1406.8 1534.7 1403.0C1535.6 1399.2 1536.8 1396.8 1537.8 1398.5C1538.8 1400.2 1540.0 1405.6 1541.0 1413.0C1542.0 1420.4 1543.0 1431.5 1544.1 1443.1C1545.1 1454.7 1546.2 1470.8 1547.3 1482.6C1548.4 1494.4 1549.2 1505.0 1550.5 1514.2C1551.8 1523.4 1553.4 1529.9 1555.2 1537.8C1557.0 1545.7 1559.1 1553.9 1561.5 1561.5C1563.9 1569.1 1566.5 1577.0 1569.4 1583.6C1572.3 1590.2 1576.0 1596.0 1578.9 1601.0C1581.8 1606.0 1585.4 1611.5 1586.7 1613.6" stroke="#D8A39A"/>
<path d="M173.8 1871.0C178.4 1871.1 191.4 1871.6 201.6 1871.6C211.8 1871.6 227.9 1871.8 234.9 1871.0C241.9 1870.2 239.4 1867.6 243.4 1866.9C247.4 1866.2 254.5 1868.2 258.6 1866.9C262.7 1865.6 264.4 1863.2 268.1 1859.0C271.8 1854.8 276.1 1849.4 280.8 1841.8C285.6 1834.2 291.3 1822.8 296.6 1813.3C301.9 1803.8 307.1 1793.8 312.4 1784.8C317.7 1775.8 322.9 1766.9 328.2 1759.5C333.5 1752.1 339.2 1745.1 344.0 1740.5C348.8 1735.9 353.0 1733.3 356.7 1732.0C360.4 1730.7 363.0 1731.4 366.2 1732.6C369.4 1733.8 372.0 1735.0 375.7 1738.9C379.4 1742.9 383.6 1749.2 388.4 1756.3C393.1 1763.4 398.9 1774.5 404.2 1781.6C409.5 1788.7 414.2 1793.8 420.0 1799.1C425.8 1804.4 432.1 1807.8 439.0 1813.3C445.9 1818.8 453.2 1826.8 461.1 1832.3C469.0 1837.8 477.0 1842.5 486.5 1846.5C496.0 1850.5 507.6 1853.6 518.1 1856.0C528.6 1858.4 540.6 1860.8 549.7 1861.0C558.8 1861.2 567.2 1857.2 572.5 1857.4C577.8 1857.6 576.5 1861.2 581.4 1862.2C586.3 1863.2 596.7 1862.7 602.0 1863.7C607.3 1864.8 605.0 1867.5 613.0 1868.5C621.0 1869.5 635.0 1869.1 650.0 1869.5C665.0 1869.9 676.5 1870.4 703.3 1870.8C730.1 1871.2 779.2 1871.8 810.9 1871.7C842.5 1871.6 868.9 1870.5 893.2 1870.1C917.5 1869.7 935.4 1869.4 956.5 1869.5C977.6 1869.6 1003.9 1870.7 1019.7 1870.8C1035.5 1870.9 1043.0 1870.7 1051.4 1870.1C1059.9 1869.5 1065.1 1868.8 1070.4 1867.0C1075.7 1865.2 1079.3 1862.5 1083.0 1859.1C1086.7 1855.7 1089.6 1849.7 1092.5 1846.4C1095.4 1843.1 1098.0 1839.9 1100.4 1839.1C1102.8 1838.3 1104.6 1839.3 1106.8 1841.6C1109.0 1843.9 1111.3 1849.4 1113.8 1852.9C1116.3 1856.4 1118.8 1860.5 1121.8 1862.8C1124.8 1865.0 1126.0 1865.5 1131.6 1866.4C1137.2 1867.3 1148.2 1868.4 1155.4 1868.4C1162.7 1868.4 1169.8 1866.7 1175.1 1866.4C1180.4 1866.1 1182.4 1866.4 1187.0 1866.8C1191.6 1867.2 1194.2 1868.3 1202.8 1868.8C1211.4 1869.3 1225.9 1869.5 1238.4 1869.7C1250.9 1869.9 1266.1 1869.5 1278.0 1869.7C1289.9 1869.9 1302.0 1871.4 1309.6 1871.1C1317.2 1870.8 1317.9 1868.5 1323.5 1867.8C1329.1 1867.1 1338.6 1866.4 1343.2 1866.8C1347.8 1867.2 1345.5 1869.6 1351.1 1870.3C1356.7 1871.0 1369.3 1871.5 1376.8 1871.1C1384.2 1870.6 1390.0 1868.6 1395.8 1867.6C1401.6 1866.6 1406.3 1866.1 1411.6 1865.2C1416.8 1864.3 1422.0 1863.2 1427.3 1862.0C1432.5 1860.8 1437.8 1859.8 1443.1 1858.1C1448.4 1856.4 1454.2 1854.3 1458.9 1851.8C1463.6 1849.3 1467.8 1846.6 1471.5 1843.1C1475.2 1839.5 1478.5 1835.2 1481.0 1830.5C1483.5 1825.8 1485.0 1820.5 1486.5 1814.7C1488.0 1808.9 1488.8 1802.4 1489.7 1795.8C1490.6 1789.2 1491.3 1781.5 1492.1 1775.2C1492.9 1768.9 1493.6 1761.5 1494.4 1757.9C1495.2 1754.4 1495.9 1752.3 1496.8 1753.9C1497.7 1755.5 1499.0 1761.1 1499.9 1767.3C1500.8 1773.5 1501.5 1783.1 1502.3 1791.0C1503.1 1798.9 1503.8 1807.9 1504.7 1814.7C1505.6 1821.5 1506.6 1828.1 1507.8 1832.1C1509.0 1836.0 1510.3 1837.4 1511.8 1838.4C1513.2 1839.5 1515.0 1839.7 1516.5 1838.4C1518.0 1837.1 1519.3 1835.5 1520.5 1830.5C1521.7 1825.5 1522.5 1816.3 1523.6 1808.4C1524.6 1800.5 1525.8 1790.7 1526.8 1783.1C1527.8 1775.5 1528.7 1767.2 1529.9 1762.6C1531.1 1758.0 1532.6 1755.5 1533.9 1755.5C1535.2 1755.5 1536.6 1758.5 1537.8 1762.6C1539.0 1766.7 1539.8 1773.2 1541.0 1780.0C1542.2 1786.8 1543.7 1797.4 1544.9 1803.7C1546.1 1810.0 1546.9 1814.4 1548.1 1817.9C1549.3 1821.5 1549.8 1822.4 1552.0 1825.0C1554.2 1827.6 1558.3 1831.0 1561.5 1833.6C1564.7 1836.2 1568.4 1839.1 1571.0 1840.7C1573.6 1842.3 1574.7 1841.8 1577.3 1843.1C1579.9 1844.4 1585.1 1847.7 1586.7 1848.6" stroke="#FF9897"/>
<path d="M173.8 2013.4C178.4 2013.5 191.4 2013.9 201.6 2014.1C211.8 2014.3 227.9 2015.3 234.9 2014.7C241.9 2014.1 238.4 2010.7 243.4 2010.3C248.4 2009.9 256.0 2013.2 264.9 2012.5C273.8 2011.8 286.1 2008.5 296.6 2006.1C307.2 2003.7 318.7 2000.4 328.2 1998.2C337.7 1996.0 346.6 1994.0 353.5 1992.8C360.4 1991.6 363.1 1990.8 369.4 1991.3C375.7 1991.8 382.5 1994.0 391.5 1995.7C400.5 1997.4 412.6 1999.9 423.2 2001.4C433.8 2002.9 444.2 2003.6 454.8 2004.6C465.4 2005.5 475.9 2006.6 486.5 2007.1C497.1 2007.6 509.1 2008.1 518.1 2007.7C527.1 2007.3 534.8 2005.9 540.3 2004.6C545.8 2003.3 548.4 2002.7 551.3 1999.8C554.2 1996.9 555.6 1989.6 557.7 1987.2C559.8 1984.8 562.2 1989.0 564.0 1985.6C565.8 1982.2 567.1 1972.5 568.7 1966.6C570.3 1960.7 571.9 1951.1 573.5 1950.1C575.1 1949.0 576.6 1954.9 578.2 1960.3C579.8 1965.7 580.9 1976.6 583.0 1982.4C585.1 1988.2 588.5 1993.5 590.9 1995.1C593.3 1996.7 595.4 1995.0 597.2 1991.9C599.1 1988.8 600.4 1977.8 602.0 1976.7C603.6 1975.7 605.1 1981.2 606.7 1985.6C608.3 1990.0 608.9 1999.0 611.5 2003.0C614.1 2007.0 616.1 2008.0 622.5 2009.3C628.9 2010.6 631.2 2010.4 650.0 2010.9C668.8 2011.4 708.2 2011.9 735.0 2012.3C761.8 2012.7 784.5 2013.3 810.9 2013.3C837.3 2013.3 868.9 2012.6 893.2 2012.3C917.5 2012.0 935.4 2011.2 956.5 2011.4C977.6 2011.6 1004.4 2013.2 1019.7 2013.3C1035.0 2013.4 1042.4 2013.2 1048.2 2012.3C1054.0 2011.3 1053.0 2009.2 1054.6 2007.6C1056.2 2006.0 1055.9 2002.8 1057.7 2002.8C1059.5 2002.8 1061.4 2006.5 1065.6 2007.6C1069.8 2008.7 1076.1 2009.2 1083.0 2009.2C1089.9 2009.2 1098.7 2007.5 1106.9 2007.5C1115.1 2007.5 1124.5 2008.2 1132.2 2008.9C1139.9 2009.6 1147.8 2011.4 1153.3 2011.7C1158.8 2012.0 1161.9 2012.4 1164.9 2010.6C1167.9 2008.8 1169.3 2002.5 1171.2 2001.1C1173.1 1999.7 1173.5 2001.2 1176.5 2002.2C1179.5 2003.2 1185.3 2005.8 1189.2 2006.8C1193.1 2007.8 1196.7 2008.2 1199.7 2008.1C1202.7 2008.0 1202.5 2005.6 1207.1 2006.0C1211.7 2006.4 1216.7 2009.9 1227.1 2010.6C1237.5 2011.3 1258.8 2010.5 1269.3 2010.2C1279.8 2009.9 1283.7 2008.2 1290.4 2008.5C1297.1 2008.8 1302.4 2011.8 1309.4 2011.7C1316.4 2011.6 1325.2 2008.1 1332.6 2008.1C1340.0 2008.1 1344.9 2010.9 1353.7 2011.7C1362.5 2012.5 1375.8 2012.7 1385.4 2012.7C1395.1 2012.8 1404.6 2012.7 1411.6 2012.0C1418.6 2011.3 1422.0 2009.8 1427.3 2008.8C1432.5 2007.8 1438.3 2006.8 1443.1 2005.7C1447.8 2004.7 1452.1 2003.8 1455.8 2002.5C1459.5 2001.2 1462.0 2000.2 1465.2 1997.8C1468.4 1995.4 1471.8 1991.7 1474.7 1988.3C1477.6 1984.9 1480.4 1981.5 1482.6 1977.3C1484.8 1973.1 1486.5 1968.4 1488.1 1963.1C1489.7 1957.8 1490.9 1950.5 1492.1 1945.7C1493.3 1941.0 1494.2 1937.0 1495.2 1934.6C1496.2 1932.2 1497.2 1931.0 1498.4 1931.5C1499.6 1932.0 1501.1 1933.1 1502.3 1937.8C1503.5 1942.5 1504.5 1953.1 1505.5 1959.9C1506.5 1966.7 1507.4 1974.1 1508.6 1978.8C1509.8 1983.5 1511.3 1986.3 1512.6 1988.3C1513.9 1990.3 1515.2 1991.0 1516.5 1990.7C1517.8 1990.4 1519.3 1989.7 1520.5 1986.7C1521.7 1983.7 1522.4 1978.3 1523.6 1972.5C1524.8 1966.7 1526.3 1958.3 1527.6 1952.0C1528.9 1945.7 1530.2 1939.3 1531.5 1934.6C1532.8 1929.9 1534.5 1926.1 1535.5 1923.6C1536.5 1921.1 1536.6 1919.4 1537.8 1919.7C1539.0 1920.0 1541.3 1921.9 1542.6 1925.2C1543.9 1928.5 1544.7 1935.5 1545.7 1939.4C1546.8 1943.4 1547.3 1946.3 1548.9 1948.9C1550.5 1951.5 1552.6 1952.8 1555.2 1955.2C1557.8 1957.6 1561.8 1960.9 1564.7 1963.1C1567.6 1965.3 1570.2 1967.4 1572.6 1968.6C1575.0 1969.8 1576.6 1969.0 1578.9 1970.2C1581.2 1971.4 1585.4 1974.8 1586.7 1975.7" stroke="#FF9649"/>
<path d="M173.8 2173.9C178.4 2174.0 191.4 2174.3 201.6 2174.5C211.8 2174.7 227.9 2175.4 234.9 2174.8C241.9 2174.2 238.9 2171.2 243.4 2170.7C247.9 2170.2 257.2 2172.4 261.8 2171.6C266.4 2170.8 267.6 2169.8 271.3 2165.9C275.0 2162.1 279.7 2155.3 283.9 2148.5C288.1 2141.7 291.9 2133.5 296.6 2124.8C301.4 2116.1 307.1 2105.0 312.4 2096.3C317.7 2087.6 322.9 2079.4 328.2 2072.6C333.5 2065.8 339.2 2059.4 344.0 2055.2C348.8 2051.0 352.7 2048.6 356.7 2047.3C360.7 2046.0 364.1 2046.2 367.8 2047.3C371.5 2048.3 374.9 2050.4 378.9 2053.6C382.8 2056.8 386.8 2061.0 391.5 2066.3C396.2 2071.6 402.0 2079.8 407.3 2085.3C412.6 2090.8 416.9 2094.5 423.2 2099.5C429.5 2104.5 437.4 2109.8 445.3 2115.3C453.2 2120.8 462.2 2127.5 470.6 2132.7C479.0 2137.9 488.0 2142.9 495.9 2146.3C503.8 2149.7 509.1 2151.2 518.1 2153.3C527.1 2155.4 539.2 2157.3 549.7 2159.0C560.2 2160.7 570.9 2162.0 581.4 2163.4C591.9 2164.8 601.6 2166.3 613.0 2167.5C624.4 2168.7 635.0 2169.9 650.0 2170.7C665.0 2171.5 676.5 2171.7 703.3 2172.2C730.1 2172.7 779.2 2173.7 810.9 2173.7C842.5 2173.7 868.9 2172.4 893.2 2172.2C917.5 2171.9 935.4 2171.9 956.5 2172.2C977.6 2172.4 1003.9 2173.4 1019.7 2173.7C1035.5 2173.9 1043.0 2174.1 1051.4 2173.7C1059.9 2173.3 1065.1 2173.1 1070.4 2171.5C1075.7 2169.9 1079.3 2167.2 1083.0 2164.2C1086.7 2161.1 1089.6 2156.3 1092.5 2153.2C1095.4 2150.0 1098.2 2146.8 1100.4 2145.3C1102.6 2143.8 1103.7 2143.2 1105.5 2144.0C1107.3 2144.8 1109.1 2146.8 1111.1 2149.9C1113.1 2153.0 1114.9 2159.2 1117.4 2162.5C1119.9 2165.8 1121.7 2168.2 1125.9 2169.9C1130.1 2171.6 1134.6 2172.1 1142.7 2172.7C1150.8 2173.3 1162.1 2173.3 1174.4 2173.5C1186.7 2173.7 1202.5 2174.1 1216.6 2174.1C1230.7 2174.1 1243.0 2173.3 1258.8 2173.5C1274.6 2173.7 1300.2 2175.4 1311.5 2175.2C1322.8 2174.9 1321.4 2172.9 1326.3 2172.0C1331.2 2171.1 1337.2 2169.8 1341.1 2169.9C1345.0 2170.0 1343.9 2172.7 1349.5 2172.7C1355.1 2172.7 1367.1 2170.7 1374.8 2169.9C1382.5 2169.1 1389.7 2168.9 1395.8 2168.1C1401.9 2167.3 1406.3 2166.2 1411.6 2164.9C1416.8 2163.6 1422.0 2161.8 1427.3 2160.2C1432.5 2158.6 1438.3 2157.2 1443.1 2155.5C1447.8 2153.8 1451.8 2152.2 1455.8 2150.0C1459.8 2147.8 1463.4 2145.5 1466.8 2142.1C1470.2 2138.7 1473.7 2134.4 1476.3 2129.4C1478.9 2124.4 1480.8 2119.5 1482.6 2112.1C1484.4 2104.7 1486.0 2094.9 1487.3 2085.2C1488.6 2075.5 1489.6 2062.9 1490.5 2053.7C1491.4 2044.5 1492.1 2037.0 1492.8 2030.0C1493.5 2023.0 1493.8 2016.2 1494.5 2012.0C1495.2 2007.8 1496.2 2005.2 1497.0 2004.5C1497.8 2003.8 1498.8 2005.8 1499.5 2008.0C1500.2 2010.2 1500.5 2014.3 1501.0 2018.0C1501.5 2021.7 1501.7 2021.4 1502.3 2030.0C1502.9 2038.6 1503.9 2057.7 1504.7 2069.5C1505.5 2081.3 1506.2 2092.8 1507.1 2101.0C1508.0 2109.2 1509.0 2114.7 1510.2 2118.4C1511.4 2122.1 1512.8 2122.8 1514.2 2123.1C1515.7 2123.4 1517.6 2123.7 1518.9 2120.0C1520.2 2116.3 1521.1 2109.4 1522.0 2101.0C1522.9 2092.6 1523.5 2081.3 1524.4 2069.5C1525.3 2057.7 1526.7 2039.6 1527.6 2030.0C1528.5 2020.4 1529.0 2016.4 1530.0 2012.0C1531.0 2007.6 1532.3 2005.1 1533.5 2003.5C1534.7 2001.9 1535.8 2001.8 1537.0 2002.5C1538.2 2003.2 1539.5 2005.4 1540.5 2008.0C1541.5 2010.6 1542.3 2014.3 1543.0 2018.0C1543.7 2021.7 1544.2 2021.4 1544.9 2030.0C1545.6 2038.6 1546.4 2059.0 1547.3 2069.5C1548.2 2080.0 1548.9 2086.5 1550.5 2093.1C1552.1 2099.7 1554.4 2103.9 1556.8 2108.9C1559.2 2113.9 1561.8 2118.9 1564.7 2123.1C1567.6 2127.3 1570.4 2130.9 1574.1 2134.2C1577.8 2137.5 1584.6 2141.4 1586.7 2142.8" stroke="#DEDE8C"/>
<path d="M173.8 2338.0C178.4 2338.2 191.4 2338.2 201.6 2338.9C211.8 2339.6 227.9 2342.5 234.9 2342.1C241.9 2341.7 238.4 2337.0 243.4 2336.7C248.4 2336.4 259.2 2340.1 264.9 2340.5C270.6 2340.9 272.3 2340.8 277.6 2338.9C282.9 2337.1 289.2 2333.1 296.6 2329.4C304.0 2325.7 313.5 2320.9 321.9 2316.8C330.3 2312.8 339.8 2307.9 347.2 2305.1C354.6 2302.3 360.4 2300.8 366.2 2300.0C372.0 2299.2 376.7 2299.2 382.0 2300.0C387.3 2300.8 390.9 2303.0 397.8 2305.1C404.7 2307.2 413.7 2310.4 423.2 2312.7C432.7 2315.0 444.2 2317.3 454.8 2319.0C465.4 2320.7 475.9 2322.0 486.5 2323.1C497.1 2324.2 509.7 2325.3 518.1 2325.3C526.5 2325.3 531.8 2324.2 537.1 2323.1C542.4 2321.9 546.5 2321.6 549.7 2318.4C552.9 2315.2 553.7 2307.3 556.1 2304.1C558.5 2300.9 561.9 2304.9 564.0 2299.4C566.1 2293.9 567.0 2280.7 568.7 2270.9C570.4 2261.1 572.4 2241.3 574.1 2240.8C575.8 2240.3 577.1 2258.5 578.9 2267.7C580.6 2276.9 582.3 2289.6 584.6 2296.2C586.9 2302.8 590.3 2306.2 592.5 2307.3C594.7 2308.4 596.1 2307.5 597.8 2302.5C599.5 2297.5 601.1 2279.3 602.6 2277.2C604.1 2275.1 605.4 2283.6 606.7 2289.9C608.0 2296.2 608.4 2309.7 610.5 2315.2C612.6 2320.7 615.3 2321.2 619.4 2323.1C623.5 2324.9 630.1 2325.6 635.2 2326.3C640.3 2327.0 638.6 2326.1 650.0 2327.2C661.4 2328.2 683.9 2331.2 703.3 2332.6C722.7 2334.0 745.5 2335.1 766.6 2335.8C787.7 2336.5 808.8 2336.4 829.9 2336.7C851.0 2336.9 872.1 2337.1 893.2 2337.3C914.3 2337.5 938.0 2337.5 956.5 2338.0C975.0 2338.5 988.6 2339.8 1003.9 2340.5C1019.2 2341.2 1039.9 2342.9 1048.2 2342.1C1056.5 2341.3 1052.2 2338.8 1053.9 2335.8C1055.6 2332.8 1056.7 2325.2 1058.4 2324.1C1060.1 2323.0 1060.0 2327.4 1064.1 2329.4C1068.2 2331.4 1077.2 2336.0 1083.0 2335.8C1088.8 2335.7 1094.7 2329.9 1098.9 2328.5C1103.1 2327.1 1104.9 2326.5 1108.4 2327.2C1111.9 2327.9 1116.0 2331.6 1120.0 2332.6C1124.0 2333.6 1126.7 2332.4 1132.2 2333.4C1137.8 2334.4 1147.8 2337.7 1153.3 2338.6C1158.8 2339.5 1161.9 2341.0 1164.9 2338.6C1167.9 2336.2 1169.3 2326.2 1171.2 2323.9C1173.1 2321.6 1173.5 2323.5 1176.5 2324.9C1179.5 2326.3 1185.3 2330.9 1189.2 2332.3C1193.1 2333.7 1196.7 2333.6 1199.7 2333.4C1202.7 2333.2 1202.9 2330.8 1207.1 2331.3C1211.3 2331.8 1216.4 2335.8 1225.0 2336.5C1233.6 2337.2 1249.6 2335.5 1258.8 2335.5C1268.0 2335.5 1274.5 2336.7 1279.9 2336.5C1285.4 2336.3 1286.6 2333.9 1291.5 2334.4C1296.4 2334.9 1302.6 2339.3 1309.4 2339.7C1316.2 2340.0 1324.9 2336.3 1332.6 2336.5C1340.3 2336.7 1348.8 2340.5 1355.8 2340.8C1362.8 2341.2 1367.6 2338.7 1374.8 2338.6C1382.0 2338.5 1392.0 2340.0 1398.9 2340.1C1405.8 2340.2 1411.0 2340.6 1416.3 2339.3C1421.6 2338.0 1425.2 2334.0 1430.5 2332.2C1435.8 2330.4 1443.2 2330.3 1447.9 2328.3C1452.6 2326.3 1455.5 2324.1 1458.9 2320.4C1462.3 2316.7 1465.5 2312.0 1468.4 2306.2C1471.3 2300.4 1473.9 2293.6 1476.3 2285.7C1478.7 2277.8 1480.8 2269.9 1482.6 2258.9C1484.4 2247.9 1486.0 2231.2 1487.3 2219.4C1488.6 2207.6 1489.5 2198.3 1490.5 2187.8C1491.5 2177.3 1492.7 2163.7 1493.6 2156.3C1494.5 2148.9 1495.1 2146.0 1496.0 2143.6C1496.9 2141.2 1498.3 2141.0 1499.2 2142.1C1500.1 2143.2 1500.7 2142.3 1501.5 2149.9C1502.3 2157.5 1503.1 2174.9 1503.9 2187.8C1504.7 2200.7 1505.4 2214.7 1506.3 2227.3C1507.2 2239.9 1508.2 2254.7 1509.4 2263.6C1510.6 2272.5 1512.2 2277.4 1513.4 2281.0C1514.6 2284.6 1515.3 2285.2 1516.5 2284.9C1517.7 2284.6 1519.5 2285.1 1520.5 2279.4C1521.5 2273.8 1522.0 2263.6 1522.8 2251.0C1523.6 2238.4 1524.3 2219.4 1525.2 2203.6C1526.1 2187.8 1527.4 2169.5 1528.4 2156.3C1529.5 2143.2 1530.5 2133.1 1531.5 2124.7C1532.5 2116.3 1533.7 2109.8 1534.7 2105.8C1535.8 2101.9 1536.6 2099.9 1537.8 2101.0C1539.0 2102.1 1540.8 2105.5 1541.8 2112.1C1542.8 2118.7 1543.2 2130.5 1544.1 2140.5C1545.0 2150.5 1546.0 2162.8 1547.3 2172.0C1548.6 2181.2 1550.2 2188.3 1552.0 2195.7C1553.8 2203.1 1555.9 2209.6 1558.3 2216.2C1560.7 2222.8 1563.3 2229.4 1566.2 2235.2C1569.1 2241.0 1572.3 2245.5 1575.7 2251.0C1579.1 2256.5 1584.9 2265.4 1586.7 2268.3" stroke="#A9CDF0"/>
</g>
<g fill="none" stroke="#C5C5C5" stroke-width="8.5" stroke-dasharray="54 23 13 23">
<path d="M369.0 1565.5V2334.0"/>
<path d="M1108.2 1675.6V2364.0"/>
<path d="M1500.0 1384.0V2264.5"/>
<path d="M1541.8 1381.8V2262.5"/>
</g>
<g fill="none" stroke="#000">
<rect x="173.6" y="1362.8" width="1413.8" height="1040.6" stroke-width="5.4"/>
<path d="M337.2 2402V2384.3M542.1 2402V2384.3M747.0 2402V2384.3M951.9 2402V2384.3M1156.8 2402V2384.3M1361.7 2402V2384.3M1566.6 2402V2384.3M234.8 2402V2393M439.7 2402V2393M644.6 2402V2393M849.5 2402V2393M1054.4 2402V2393M1259.3 2402V2393M1464.2 2402V2393" stroke-width="5"/>
</g>
<g font-size="66">
<text x="273.6" y="2477" textLength="128.2" lengthAdjust="spacingAndGlyphs">3500</text>
<text x="479.0" y="2477" textLength="128.2" lengthAdjust="spacingAndGlyphs">3000</text>
<text x="684.4" y="2477" textLength="128.2" lengthAdjust="spacingAndGlyphs">2500</text>
<text x="889.8" y="2477" textLength="128.2" lengthAdjust="spacingAndGlyphs">2000</text>
<text x="1095.2" y="2477" textLength="128.2" lengthAdjust="spacingAndGlyphs">1500</text>
<text x="1300.6" y="2477" textLength="128.2" lengthAdjust="spacingAndGlyphs">1000</text>
<text x="1522.0" y="2477" textLength="96.2" lengthAdjust="spacingAndGlyphs">500</text>
</g>
<text x="583.4" y="2556.5" font-size="81" textLength="436" lengthAdjust="spacingAndGlyphs">Wavenumber</text><text x="1034.7" y="2556.5" font-size="48">(</text><text x="1053.7" y="2556.5" font-size="81" textLength="98" lengthAdjust="spacingAndGlyphs">cm</text><text x="1158.2" y="2536.0" font-size="40">−</text><text x="1177.7" y="2539.0" font-size="56" textLength="19" lengthAdjust="spacingAndGlyphs">1</text><text x="1201.2" y="2556.5" font-size="48">)</text>
<text transform="translate(123.1 2167.3) rotate(-90)" font-size="76" textLength="522" lengthAdjust="spacingAndGlyphs">Absorbance (a.u.)</text>
<g class="b">
<text x="23.5" y="1454.3" font-size="103" textLength="131.5" lengthAdjust="spacingAndGlyphs">(b)</text>
<text x="331.4" y="1557.0" font-size="48.0" text-anchor="start">O-H</text>
<text x="1068.0" y="1662.8" font-size="48.0" text-anchor="start">O-H</text>
<text x="1386.3" y="1426.6" font-size="48.0" text-anchor="start">M-O</text>
<text x="622.5" y="1703.0" font-size="51.5" text-anchor="start" textLength="410.0" lengthAdjust="spacingAndGlyphs">Mg-PtCoAl-NaOH</text>
<text x="467.5" y="1833.8" font-size="51.5" text-anchor="start" textLength="612.4" lengthAdjust="spacingAndGlyphs">Mg-PtCoAl-Na<tspan dy="13.5" font-size="32.4">2</tspan><tspan dy="-13.5">CO</tspan><tspan dy="13.5" font-size="32.4">3</tspan><tspan dy="-13.5">+NaOH</tspan></text>
<text x="627.3" y="1987.8" font-size="51.5" text-anchor="start" textLength="443.1" lengthAdjust="spacingAndGlyphs">Mg-PtCoAl-Na<tspan dy="13.5" font-size="32.4">2</tspan><tspan dy="-13.5">CO</tspan><tspan dy="13.5" font-size="32.4">3</tspan></text>
<text x="492.8" y="2130.0" font-size="51.5" text-anchor="start" textLength="679.5" lengthAdjust="spacingAndGlyphs">Mg-PtCoAl-(NH<tspan dy="13.5" font-size="32.4">4</tspan><tspan dy="-13.5">)</tspan><tspan dy="13.5" font-size="32.4">2</tspan><tspan dy="-13.5">CO</tspan><tspan dy="13.5" font-size="32.4">3</tspan><tspan dy="-13.5">+NaOH</tspan></text>
<text x="616.2" y="2294.6" font-size="51.5" text-anchor="start" textLength="509.7" lengthAdjust="spacingAndGlyphs">Mg-PtCoAl-(NH<tspan dy="13.5" font-size="32.4">4</tspan><tspan dy="-13.5">)</tspan><tspan dy="13.5" font-size="32.4">2</tspan><tspan dy="-13.5">CO</tspan><tspan dy="13.5" font-size="32.4">3</tspan></text>
</g>
</svg></body></html>
